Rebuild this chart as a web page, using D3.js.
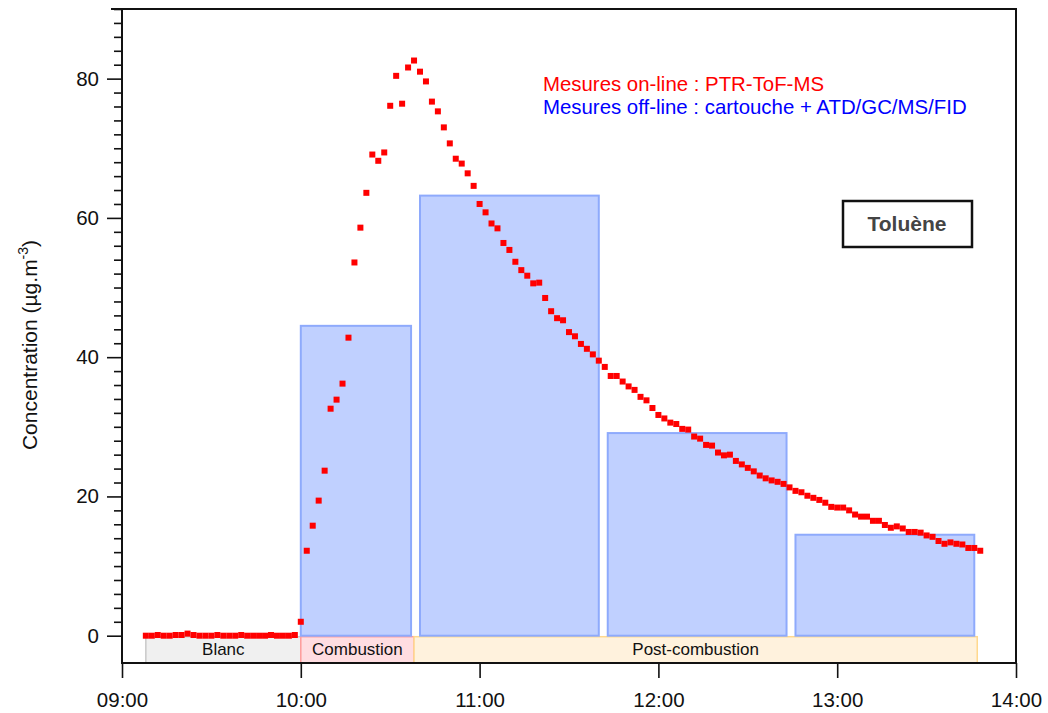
<!DOCTYPE html>
<html>
<head>
<meta charset="utf-8">
<script src="https://cdn.jsdelivr.net/npm/d3@7"></script>
<style>
body { margin: 0; background: #fff; }
svg { display: block; font-family: "Liberation Sans", Arial, sans-serif; }
</style>
</head>
<body>
<div class="chart-wrapper"></div>
<script>
const width = 1048;
const height = 713;

// PTR-ToF-MS on-line, one point every 2 min from 09:08
const onlineStart = '09:08';
const onlineStepMin = 2;
const onlineValues = [
	0.0,0.0,0.1,0.0,0.0,0.1,0.1,0.3,0.1,0.0,0.0,0.0,0.1,0.0,0.0,0.0,0.1,0.0,0.0,0.0,0.0,0.1,0.0,0.0,0.0,0.1,
	2.0,12.2,15.8,19.4,23.7,32.6,33.9,36.2,42.8,53.6,58.6,63.6,69.1,68.2,69.4,76.1,80.4,76.4,81.6,82.6,
	81.0,79.6,76.7,75.3,73.0,70.7,68.5,67.8,66.4,64.6,62.0,60.8,59.2,58.5,56.4,55.4,53.7,52.5,51.7,50.6,
	50.7,48.5,46.6,45.6,45.3,43.6,43.0,41.9,41.2,40.4,39.5,38.6,37.3,37.3,36.5,35.8,35.3,34.3,33.8,32.7,
	31.7,31.2,30.6,30.4,29.7,29.6,28.6,28.3,27.4,27.3,26.3,25.9,26.0,25.1,24.6,24.1,23.6,23.0,22.6,22.3,
	22.1,21.8,21.3,20.8,20.6,20.1,19.8,19.5,19.1,18.5,18.4,18.4,18.0,17.4,17.1,17.1,16.5,16.5,15.9,15.5,
	15.7,15.4,14.9,14.9,14.8,14.4,14.2,13.6,13.2,13.4,13.2,13.1,12.6,12.6,12.2
];

// cartouche samples (off-line)
const offlineStarts = ['10:00', '10:40', '11:43', '12:46'];
const offlineEnds = ['10:37', '11:40', '12:43', '13:46'];
const offlineValues = [44.5, 63.2, 29.1, 14.5];

const phaseNames = ['Blanc', 'Combustion', 'Post-combustion'];
const phaseStarts = ['09:08', '10:00', '10:38'];
const phaseEnds = ['10:00', '10:38', '13:47'];

const xTickLabels = ['09:00', '10:00', '11:00', '12:00', '13:00', '14:00'];
const yTickLabels = [0, 20, 40, 60, 80];

const parse = d3.timeParse('%H:%M');

const online = onlineValues.map((v, i) => ({
	t: d3.timeMinute.offset(parse(onlineStart), i * onlineStepMin),
	v: v
}));

const offline = offlineValues.map((v, i) => ({
	start: parse(offlineStarts[i]),
	end: parse(offlineEnds[i]),
	v: v
}));

const phaseFill = ['#f0f0f0', '#ffdde1', '#fff2dd'];
const phaseStroke = ['#c9c9c9', '#ff9c9c', '#ffd98e'];

const phases = phaseNames.map((n, i) => ({
	name: n,
	start: parse(phaseStarts[i]),
	end: parse(phaseEnds[i])
}));

const margin = {left: 122, right: 1016, top: 9, bottom: 663};

let x = d3.scaleTime()
.domain([parse(xTickLabels[0]), parse(xTickLabels[xTickLabels.length - 1])])
.range([margin.left, margin.right]);

let y = d3.scaleLinear()
.domain([-3.92, 90])
.range([margin.bottom, margin.top]);

let svg = d3.select('.chart-wrapper').append('svg')
.attr('width', width)
.attr('height', height);

// phase bands under the zero line
let bands = svg.append('g');

bands.selectAll('rect')
.data(phases)
.enter()
.append('rect')
.attr('x', d => x(d.start))
.attr('y', y(0) + 1)
.attr('width', d => x(d.end) - x(d.start))
.attr('height', y(-3.92) - y(0) - 1)
.attr('fill', (d, i) => phaseFill[i])
.attr('stroke', (d, i) => phaseStroke[i])
.attr('stroke-width', 1.5);

bands.selectAll('text')
.data(phases)
.enter()
.append('text')
.attr('x', d => (x(d.start) + x(d.end)) / 2)
.attr('y', (y(0) + y(-3.92)) / 2 + 6)
.attr('text-anchor', 'middle')
.attr('font-size', '17px')
.attr('fill', '#111')
.text(d => d.name);

// off-line bars
svg.append('g')
.selectAll('rect')
.data(offline)
.enter()
.append('rect')
.attr('x', d => x(d.start))
.attr('y', d => y(d.v))
.attr('width', d => x(d.end) - x(d.start))
.attr('height', d => y(0) - y(d.v))
.attr('fill', '#c0d0ff')
.attr('stroke', '#8eaafc')
.attr('stroke-width', 2);

// on-line points
const sq = 6;
svg.append('g')
.selectAll('rect')
.data(online)
.enter()
.append('rect')
.attr('x', d => x(d.t) - sq / 2)
.attr('y', d => y(d.v) - sq / 2)
.attr('width', sq)
.attr('height', sq)
.attr('fill', '#ff0000');

// axes
let xAxis = svg.append('g')
.attr('transform', 'translate(0,' + margin.bottom + ')')
.call(d3.axisBottom(x)
	.tickValues(xTickLabels.map(parse))
	.tickFormat(d3.timeFormat('%H:%M'))
	.tickSize(15)
	.tickPadding(14));

let yMinor = svg.append('g')
.attr('transform', 'translate(' + margin.left + ',0)')
.call(d3.axisLeft(y)
	.tickValues(d3.range(0, 91, 2).filter(d => d % 20 !== 0))
	.tickFormat('')
	.tickSize(8));

let yAxis = svg.append('g')
.attr('transform', 'translate(' + margin.left + ',0)')
.call(d3.axisLeft(y)
	.tickValues(yTickLabels)
	.tickSize(15)
	.tickPadding(8));

[xAxis, yMinor, yAxis].forEach(a => {
	a.select('.domain').remove();
	a.selectAll('line').attr('stroke', '#111').attr('stroke-width', 1.6);
	a.selectAll('text')
	.attr('font-size', '20.5px')
	.attr('fill', '#111')
	.style('font-family', '"Liberation Sans", Arial, sans-serif');
});

// frame
svg.append('rect')
.attr('x', margin.left)
.attr('y', margin.top)
.attr('width', margin.right - margin.left)
.attr('height', margin.bottom - margin.top)
.attr('fill', 'none')
.attr('stroke', '#111')
.attr('stroke-width', 2);

svg.append('line')
.attr('x1', 111)
.attr('x2', margin.left)
.attr('y1', margin.top)
.attr('y2', margin.top)
.attr('stroke', '#111')
.attr('stroke-width', 2);

// y title
let yTitle = svg.append('text')
.attr('transform', 'translate(37,345) rotate(-90)')
.attr('text-anchor', 'middle')
.attr('font-size', '21px')
.attr('fill', '#111');

yTitle.append('tspan').text('Concentration (µg.m');
yTitle.append('tspan').attr('font-size', '14px').attr('dy', '-9').text('-3');
yTitle.append('tspan').attr('dy', '9').text(')');

// legend
svg.append('text')
.attr('x', 543)
.attr('y', 91)
.attr('font-size', '20.4px')
.attr('fill', '#ff0000')
.text('Mesures on-line : PTR-ToF-MS');

svg.append('text')
.attr('x', 543)
.attr('y', 113.5)
.attr('font-size', '20.4px')
.attr('fill', '#0000ff')
.text('Mesures off-line : cartouche + ATD/GC/MS/FID');

// compound label
svg.append('rect')
.attr('x', 843)
.attr('y', 201)
.attr('width', 129)
.attr('height', 46)
.attr('fill', '#fff')
.attr('stroke', '#111')
.attr('stroke-width', 2.5);

svg.append('text')
.attr('x', 907)
.attr('y', 231)
.attr('text-anchor', 'middle')
.attr('font-size', '21px')
.attr('font-weight', 'bold')
.attr('fill', '#444')
.text('Toluène');
</script>
</body>
</html>
